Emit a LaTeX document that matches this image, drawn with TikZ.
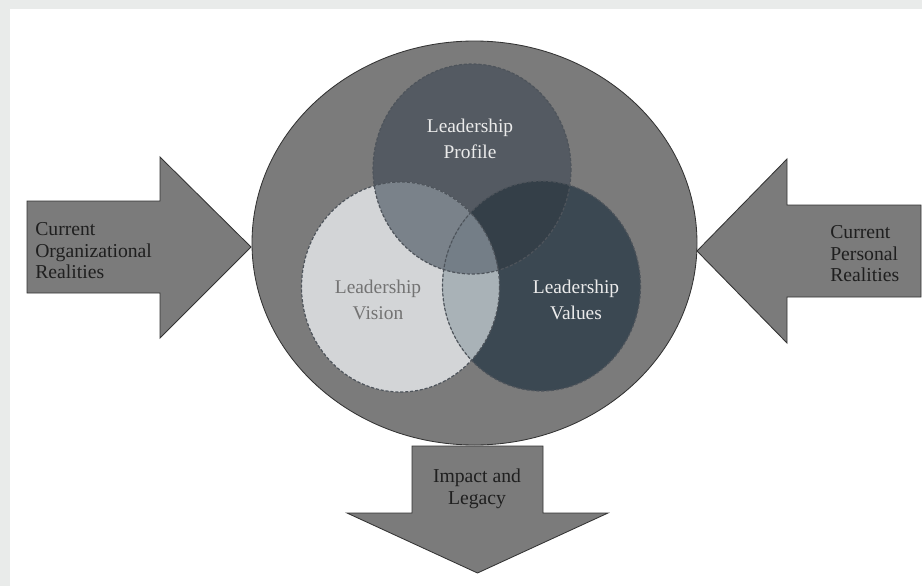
\documentclass[tikz,border=0pt]{standalone}
\usepackage{fontspec}
\setmainfont{Liberation Serif}
\usetikzlibrary{positioning}
\definecolor{framegray}{HTML}{E9EBEA}
\definecolor{shellgray}{HTML}{7B7B7B}
\definecolor{profilefill}{HTML}{545A62}
\definecolor{visionfill}{HTML}{D3D5D7}
\definecolor{valuesfill}{HTML}{3B4852}
\definecolor{pvifill}{HTML}{7A828A}
\definecolor{vivafill}{HTML}{A9B2B7}
\definecolor{pvafill}{HTML}{343F48}
\definecolor{triplefill}{HTML}{747E87}
\definecolor{vennline}{HTML}{4E545B}

\begin{document}
\begin{tikzpicture}[x=0.025cm, y=-0.025cm,
				block/.style={fill=shellgray, draw=black!80, line width=0.6pt, line join=miter},
				vennrad/.style={x radius=99, y radius=105},
				venn/.style={draw=vennline, dash pattern=on 2.2pt off 1.3pt, line width=0.85pt},
				blocktext/.style={align=left, text=black!88, inner sep=0pt, font=\fontsize{14}{15.3}\selectfont},
				venntext/.style={align=center, inner sep=0pt, font=\fontsize{13.8}{18.5}\selectfont}]
				% frame
				\useasboundingbox (0,0) rectangle (922,586);
				\fill[framegray] (0,0) rectangle (922,586);
				\fill[white] (10,9) rectangle (922,586);
				
				% block arrows
				\draw[block] (27,201) -- (160,201) -- (160,157) -- (251,247) -- (160,338) -- (160,293) -- (27,293) -- cycle;
				\draw[block] (921,205) -- (787,205) -- (787,159) -- (697,251) -- (787,343) -- (787,297) -- (921,297) -- cycle;
				\draw[block] (412,446) -- (543,446) -- (543,513) -- (608,513) -- (477.5,573) -- (347,513) -- (412,513) -- cycle;
				
				% outer circle
				\coordinate (shell) at (474.5,243);
				\draw[block] (shell) ellipse [x radius=222.5, y radius=202];
				
				% venn circles
				\coordinate (profile) at (472,169);
				\coordinate (vision) at (400.5,287);
				\coordinate (values) at (541.5,286);
				\fill[profilefill] (profile) ellipse [vennrad];
				\fill[visionfill] (vision) ellipse [vennrad];
				\fill[valuesfill] (values) ellipse [vennrad];
				\begin{scope}
					\clip (profile) ellipse [vennrad];
					\fill[pvifill] (vision) ellipse [vennrad];
					\fill[pvafill] (values) ellipse [vennrad];
					\clip (vision) ellipse [vennrad];
					\fill[triplefill] (values) ellipse [vennrad];
				\end{scope}
				\begin{scope}
					\clip (vision) ellipse [vennrad];
					\clip (-10,-10) rectangle (930,600) (profile) ellipse [vennrad];
					\fill[vivafill] (values) ellipse [vennrad];
				\end{scope}
				\draw[venn] (profile) ellipse [vennrad];
				\draw[venn] (vision) ellipse [vennrad];
				\draw[venn] (values) ellipse [vennrad];
				
				% labels
				\node[blocktext, anchor=west] (orgtext) at (35,251) {Current\\Organizational\\Realities};
				\node[blocktext, anchor=west] (perstext) at (830,254) {Current\\Personal\\Realities};
				\node[blocktext, align=center] (impacttext) at (477,489) {Impact and\\Legacy};
				\node[venntext, text=white!92!black] (profiletext) at (470,139) {Leadership\\Profile};
				\node[venntext, text=black!55] (visiontext) at (378,300) {Leadership\\Vision};
				\node[venntext, text=white!92!black] (valuestext) at (576,300) {Leadership\\Values};
			\end{tikzpicture}
\end{document}
